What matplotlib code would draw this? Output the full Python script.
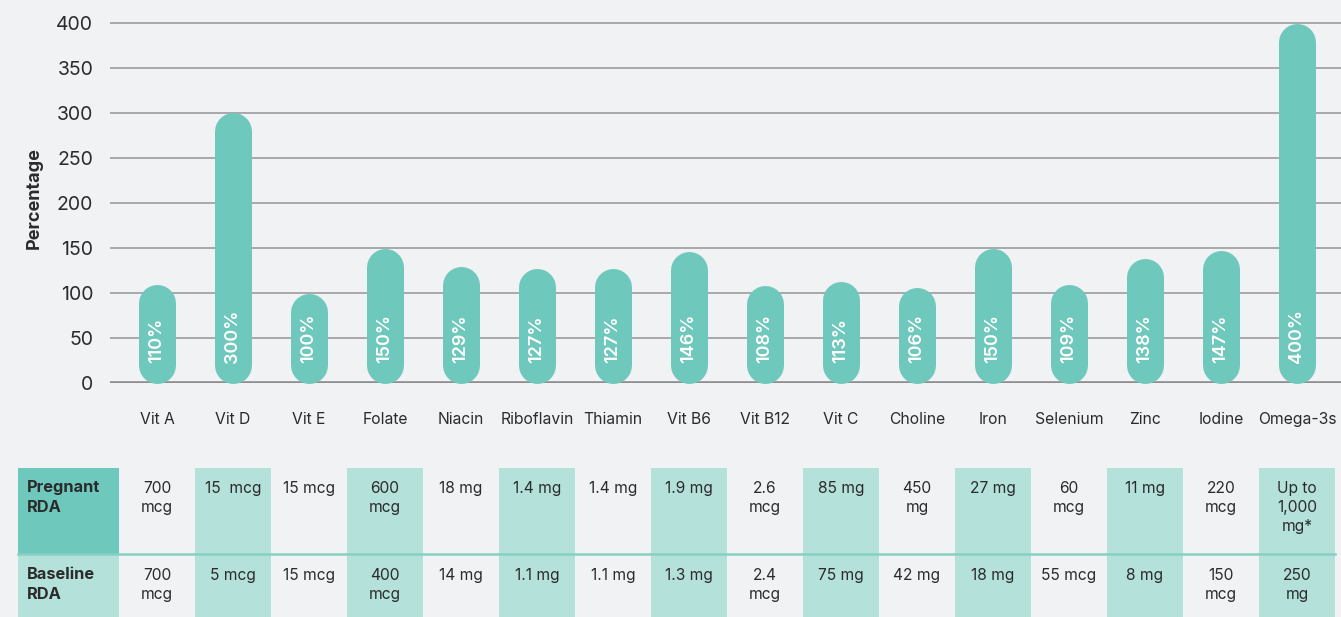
import matplotlib
matplotlib.use("Agg")
import matplotlib.pyplot as plt
from matplotlib.patches import Rectangle

nutrients = ["Vit A", "Vit D", "Vit E", "Folate", "Niacin", "Riboflavin", "Thiamin",
             "Vit B6", "Vit B12", "Vit C", "Choline", "Iron", "Selenium", "Zinc",
             "Iodine", "Omega-3s"]
percentages = [110, 300, 100, 150, 129, 127, 127, 146, 108, 113, 106, 150, 109, 138, 147, 400]
pregnant_rda = ["700\nmcg", "15  mcg", "15 mcg", "600\nmcg", "18 mg", "1.4 mg", "1.4 mg",
                "1.9 mg", "2.6\nmcg", "85 mg", "450\nmg", "27 mg", "60\nmcg", "11 mg",
                "220\nmcg", "Up to\n1,000\nmg*"]
baseline_rda = ["700\nmcg", "5 mcg", "15 mcg", "400\nmcg", "14 mg", "1.1 mg", "1.1 mg",
                "1.3 mg", "2.4\nmcg", "75 mg", "42 mg", "18 mg", "55 mcg", "8 mg",
                "150\nmcg", "250\nmg"]
row_labels = ["Pregnant\nRDA", "Baseline\nRDA"]
yticks = [0, 50, 100, 150, 200, 250, 300, 350, 400]

FONT = ["Inter", "DejaVu Sans"]
plt.rcParams["font.family"] = FONT

W, H, DPI = 1341, 617, 100
BG = "#f1f2f4"
TEAL = "#6ec8bc"
LIGHT = "#b4e1da"
TXT = "#2b2b2b"

fig = plt.figure(figsize=(W / DPI, H / DPI), dpi=DPI, facecolor=BG)

# pixel geometry
x0_px, step_px = 157, 76
left_px, right_px = 110, W
base_px, top_px = 383, 14
ymax = 410

ax = fig.add_axes([left_px / W, (H - base_px) / H, (right_px - left_px) / W, (base_px - top_px) / H])
ax.set_facecolor(BG)
ax.set_xlim((left_px - x0_px) / step_px, (right_px - x0_px) / step_px)
ax.set_ylim(0, ymax)

for y in yticks[1:]:
    ax.axhline(y, color="#a3a3a6", lw=1.3, zorder=1)
ax.axhline(0, color="#8e8e91", lw=2.6, zorder=1)

for s in ax.spines.values():
    s.set_visible(False)
ax.set_yticks(yticks)
ax.set_yticklabels([str(v) for v in yticks], fontsize=14, color=TXT)
ax.tick_params(axis="y", length=0, pad=12)
ax.set_xticks(range(len(nutrients)))
ax.set_xticklabels(nutrients, fontsize=11.3, color=TXT)
ax.tick_params(axis="x", length=0, pad=21)
ax.set_ylabel("Percentage", fontsize=13, fontweight="bold", color=TXT, labelpad=10)

# pill bars: thick lines with round caps (cap radius = half bar width)
bar_px = 37
bar_lw = bar_px * 72 / DPI
cap_y = (bar_px / 2) * ymax / (base_px - top_px)
for i, v in enumerate(percentages):
    ax.plot([i, i], [cap_y, v - cap_y], color=TEAL, lw=bar_lw, solid_capstyle="round",
            zorder=3, clip_on=False)
    ax.text(i, 22, f"{v}%", rotation=90, ha="center", va="bottom", color="white",
            fontsize=13, fontweight="semibold", zorder=4)

# table axes in pixel coordinates
tax = fig.add_axes([0, 0, 1, 1], facecolor="none")
tax.set_xlim(-x0_px / step_px, (W - x0_px) / step_px)
tax.set_ylim(H, 0)
tax.axis("off")

row1_top, row1_bot, row2_bot = 468, 554, 640
hdr_l = (18 - x0_px) / step_px
hdr_r = -0.5

tax.add_patch(Rectangle((hdr_l, row1_top), hdr_r - hdr_l, row1_bot - row1_top, fc=TEAL, ec="none"))
tax.add_patch(Rectangle((hdr_l, row1_bot), hdr_r - hdr_l, row2_bot - row1_bot, fc=LIGHT, ec="none"))
for i in range(len(nutrients)):
    if i % 2 == 1:
        tax.add_patch(Rectangle((i - 0.5, row1_top), 1, row2_bot - row1_top, fc=LIGHT, ec="none"))
tax.plot([hdr_l, len(nutrients) - 0.5], [row1_bot, row1_bot], color="#86d0c5", lw=1.8)

hdr_x = (27 - x0_px) / step_px
for lab, ytop in zip(row_labels, [480, 567]):
    tax.text(hdr_x, ytop, lab, ha="left", va="top", fontsize=11.8, fontweight="bold",
             color=TXT, linespacing=1.4)
for i, (a, b) in enumerate(zip(pregnant_rda, baseline_rda)):
    tax.text(i, 481, a, ha="center", va="top", fontsize=11.2, color=TXT, linespacing=1.35,
             multialignment="center")
    tax.text(i, 568, b, ha="center", va="top", fontsize=11.2, color=TXT, linespacing=1.35,
             multialignment="center")

fig.savefig("out.png", dpi=DPI, facecolor=BG)
